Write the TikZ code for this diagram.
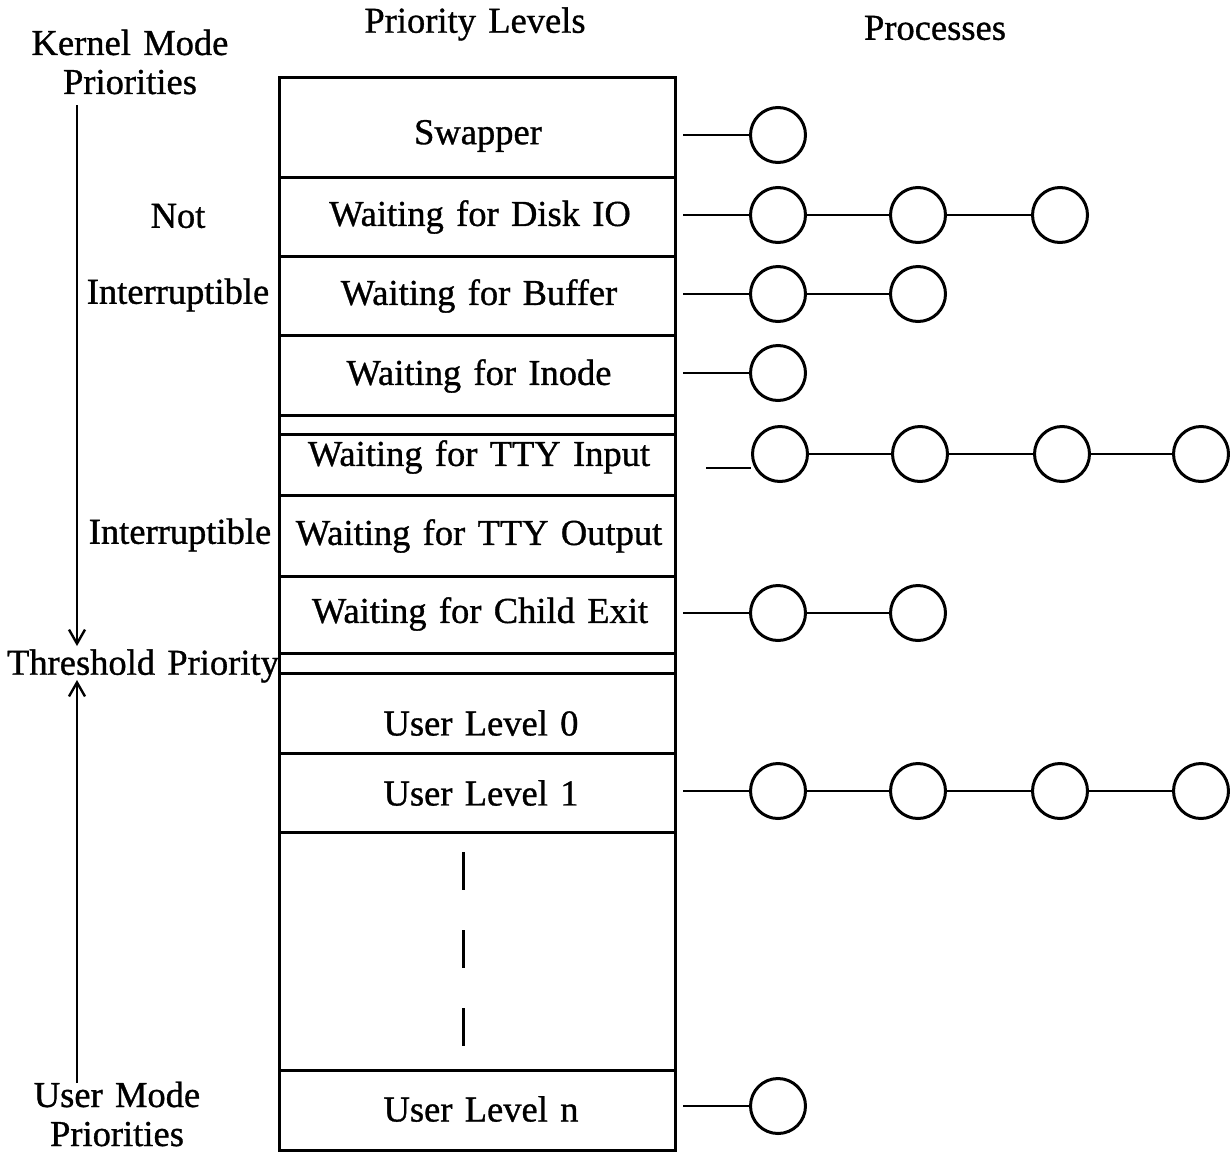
\documentclass[tikz,border=0pt]{standalone}
\usepackage{fontspec}
\setmainfont{Liberation Serif}[BoldFont={Liberation Serif}, BoldFeatures={FakeBold=0.9}, WordSpace=1.35]
\usetikzlibrary{arrows.meta,calc}
\begin{document}
\begin{tikzpicture}[x=1pt,y=-1pt,
  every node/.style={font=\fontsize{36.5}{39}\selectfont\bfseries, inner sep=0pt},
  rowbox/.style={draw, line width=3pt, minimum width=396pt, anchor=north west, rectangle},
  proc/.style={draw, circle, line width=3pt, minimum size=55pt},
  link/.style={line width=2.8pt},
  lbl/.style={align=center},
  barb/.style={line width=2.4pt, -{Straight Barb[length=14pt,width=16pt,line width=2.4pt]}}
]
\useasboundingbox (0,0) rectangle (1230,1151);

% headers
\node (hpl) at (475,24) {Priority Levels};
\node (hpr) at (935,28) {Processes};

% rows
\node[rowbox, minimum height=100pt] (r1) at (278,76) {};
\node[rowbox, minimum height=79pt] (r2) at (278,176) {};
\node[rowbox, minimum height=79pt] (r3) at (278,255) {};
\node[rowbox, minimum height=80pt] (r4) at (278,334) {};
\node[rowbox, minimum height=19pt] (g1) at (278,414) {};
\node[rowbox, minimum height=61pt] (r5) at (278,433) {};
\node[rowbox, minimum height=81pt] (r6) at (278,494) {};
\node[rowbox, minimum height=77pt] (r7) at (278,575) {};
\node[rowbox, minimum height=20pt] (g2) at (278,652) {};
\node[rowbox, minimum height=80pt] (r8) at (278,672) {};
\node[rowbox, minimum height=79pt] (r9) at (278,752) {};
\node[rowbox, minimum height=238pt] (r10) at (278,831) {};
\node[rowbox, minimum height=80pt] (r11) at (278,1069) {};

% row texts
\node (t1) at (478,136) {Swapper};
\node (t2) at (480,217) {Waiting for Disk IO};
\node (t3) at (479,296) {Waiting for Buffer};
\node (t4) at (479,376) {Waiting for Inode};
\node (t5) at (479,457) {Waiting for TTY Input};
\node (t6) at (479,536) {Waiting for TTY Output};
\node (t7) at (480,614) {Waiting for Child Exit};
\node (t8) at (481,723) {User Level 0};
\node (t9) at (481,793) {User Level 1};
\node (t11) at (481,1109) {User Level n};

% ellipsis dashes
\coordinate (d1) at (463,852);
\coordinate (d2) at (463,1048);
\draw[line width=3pt, dash pattern=on 38pt off 40pt] (d1) -- (d2);

% left labels
\node[lbl] (kern) at (130,62) {Kernel Mode\\Priorities};
\node (not) at (178,216) {Not};
\node (int1) at (178,295) {Interruptible};
\node (int2) at (180,535) {Interruptible};
\node (thr) at (143,666) {Threshold Priority};
\node[lbl] (usr) at (117,1114) {User Mode\\Priorities};

\coordinate (ka) at (77,105);
\coordinate (kb) at (77,646);
\coordinate (ua) at (77,1083);
\coordinate (ub) at (77,680);
\draw[barb] (ka) -- (kb);
\draw[barb] (ua) -- (ub);

% processes
\foreach \n/\y in {a/135, b/215, c/294, d/373, e/454, g/613, i/791, k/1106}{
  \coordinate (s\n) at (683,\y);
}
\node[proc] (a1) at (778,135) {};
\node[proc] (b1) at (778,215) {};
\node[proc] (b2) at (918,215) {};
\node[proc] (b3) at (1060,215) {};
\node[proc] (c1) at (778,294) {};
\node[proc] (c2) at (918,294) {};
\node[proc] (d1p) at (778,373) {};
\node[proc] (e1) at (780,454) {};
\node[proc] (e2) at (920,454) {};
\node[proc] (e3) at (1062,454) {};
\node[proc] (e4) at (1201,454) {};
\node[proc] (g1p) at (778,613) {};
\node[proc] (g2p) at (918,613) {};
\node[proc] (i1) at (778,791) {};
\node[proc] (i2) at (918,791) {};
\node[proc] (i3) at (1060,791) {};
\node[proc] (i4) at (1201,791) {};
\node[proc] (k1) at (778,1106) {};

\draw[link] (sa) -- (a1);
\draw[link] (sb) -- (b1) -- (b2) -- (b3);
\draw[link] (sc) -- (c1) -- (c2);
\draw[link] (sd) -- (d1p);
\coordinate (se2) at (706,468);
\draw[link] (se2) -- (se2 -| e1.west);
\draw[link] (e1) -- (e2) -- (e3) -- (e4);
\draw[link] (sg) -- (g1p) -- (g2p);
\draw[link] (si) -- (i1) -- (i2) -- (i3) -- (i4);
\draw[link] (sk) -- (k1);
\end{tikzpicture}
\end{document}
